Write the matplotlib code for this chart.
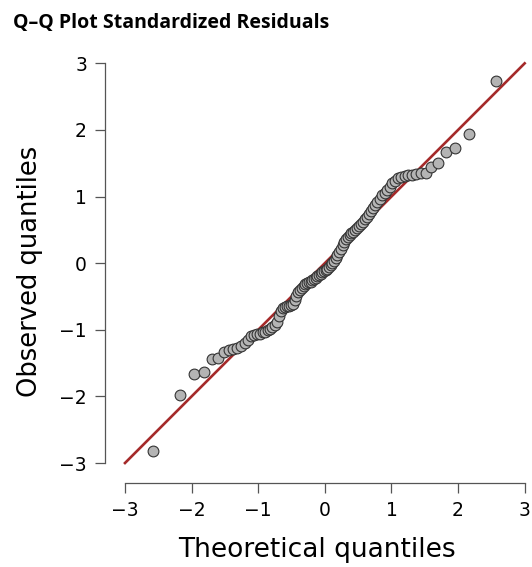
import matplotlib
matplotlib.use("Agg")
import matplotlib.pyplot as plt

# theoretical normal quantiles (n = 100) and the sorted standardized residuals
theoretical = [
    -2.576, -2.170, -1.960, -1.812, -1.695, -1.598, -1.514, -1.440, -1.372, -1.311,
    -1.254, -1.200, -1.150, -1.103, -1.058, -1.015, -0.974, -0.935, -0.896, -0.860,
    -0.824, -0.789, -0.755, -0.722, -0.690, -0.659, -0.628, -0.598, -0.568, -0.539,
    -0.510, -0.482, -0.454, -0.426, -0.399, -0.372, -0.345, -0.319, -0.292, -0.266,
    -0.240, -0.215, -0.189, -0.164, -0.138, -0.113, -0.088, -0.063, -0.038, -0.013,
    0.013, 0.038, 0.063, 0.088, 0.113, 0.138, 0.164, 0.189, 0.215, 0.240,
    0.266, 0.292, 0.319, 0.345, 0.372, 0.399, 0.426, 0.454, 0.482, 0.510,
    0.539, 0.568, 0.598, 0.628, 0.659, 0.690, 0.722, 0.755, 0.789, 0.824,
    0.860, 0.896, 0.935, 0.974, 1.015, 1.058, 1.103, 1.150, 1.200, 1.254,
    1.311, 1.372, 1.440, 1.514, 1.598, 1.695, 1.812, 1.960, 2.170, 2.576,
]
observed = [
    -2.82, -1.98, -1.66, -1.63, -1.44, -1.43, -1.33, -1.30, -1.29, -1.27,
    -1.24, -1.20, -1.15, -1.10, -1.08, -1.07, -1.06, -1.04, -1.03, -1.01,
    -0.99, -0.96, -0.93, -0.88, -0.80, -0.72, -0.67, -0.66, -0.65, -0.64,
    -0.63, -0.61, -0.56, -0.50, -0.44, -0.40, -0.37, -0.34, -0.32, -0.30,
    -0.29, -0.28, -0.26, -0.24, -0.22, -0.20, -0.18, -0.16, -0.14, -0.12,
    -0.10, -0.08, -0.05, -0.02, 0.01, 0.04, 0.08, 0.12, 0.17, 0.22,
    0.27, 0.32, 0.36, 0.39, 0.42, 0.45, 0.47, 0.50, 0.53, 0.56,
    0.59, 0.62, 0.66, 0.70, 0.74, 0.79, 0.83, 0.87, 0.92, 0.97,
    1.02, 1.06, 1.10, 1.15, 1.20, 1.24, 1.28, 1.30, 1.31, 1.32,
    1.33, 1.34, 1.35, 1.36, 1.45, 1.51, 1.67, 1.73, 1.94, 2.74,
]
ref_line = [-3, 3]
ticks = [-3, -2, -1, 0, 1, 2, 3]

W, H = 532, 567
fig = plt.figure(figsize=(W / 100, H / 100), dpi=100)
ax = fig.add_axes([105 / W, (H - 483) / H, 423 / W, 423 / H])

ax.plot(ref_line, ref_line, color="#a52a2a", lw=1.9, zorder=1)
ax.scatter(theoretical, observed, s=60, facecolor="#b4b4b4", edgecolor="#333333",
           linewidth=0.8, zorder=2)

ax.set_xlim(-3.3, 3.05)
ax.set_ylim(-3.3, 3.05)
ax.set_xticks(ticks)
ax.set_yticks(ticks)
ax.set_xticklabels([str(t).replace("-", "\u2212") for t in ticks])
ax.set_yticklabels([str(t).replace("-", "\u2212") for t in ticks])

for s in ["top", "right"]:
    ax.spines[s].set_visible(False)
for s in ["left", "bottom"]:
    ax.spines[s].set_bounds(-3, 3)
    ax.spines[s].set_color("#555555")
    ax.spines[s].set_linewidth(0.9)
ax.tick_params(length=7, width=0.9, color="#555555", labelsize=13.5, pad=6)

ax.set_xlabel("Theoretical quantiles", fontsize=19, labelpad=12)
ax.set_ylabel("Observed quantiles", fontsize=18.5, labelpad=12)

fig.text(13 / W, 1 - 23 / H, "Q\u2013Q Plot Standardized Residuals", fontsize=14,
         fontweight="bold", family="Open Sans", va="center", ha="left")

fig.savefig("out.png", dpi=100)
